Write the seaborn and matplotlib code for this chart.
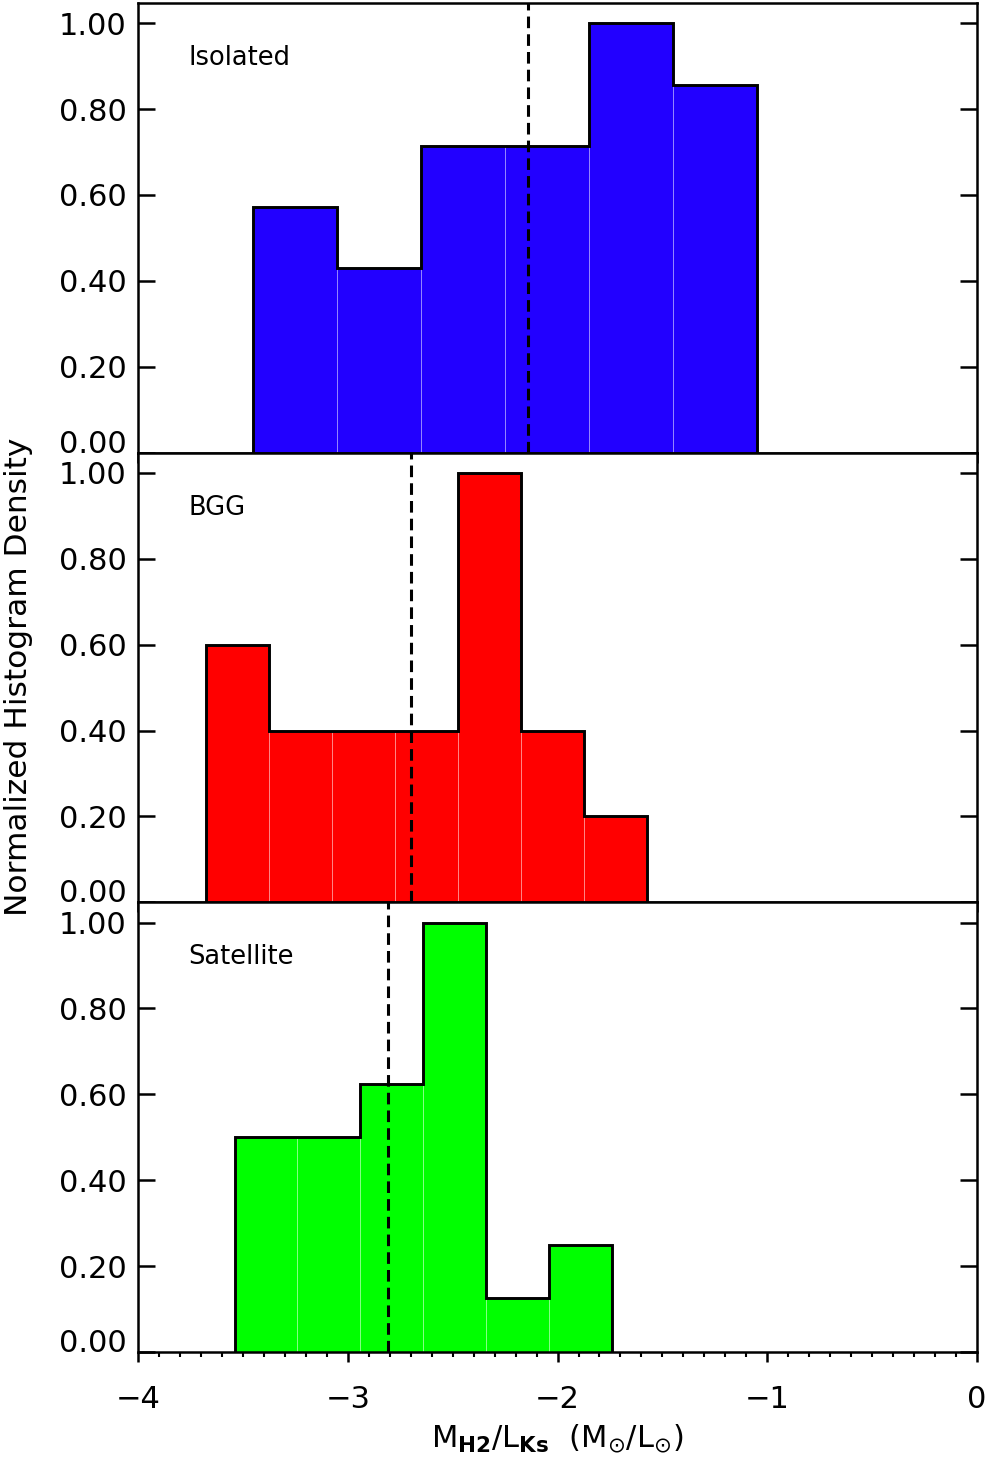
import numpy as np
import pandas as pd
import matplotlib
matplotlib.use('Agg')
import matplotlib.pyplot as plt
import seaborn as sns
from matplotlib.ticker import MultipleLocator, FormatStrFormatter

sns.set_style('ticks')
plt.rcParams['font.family'] = ['DejaVu Sans']
plt.rcParams['mathtext.fontset'] = 'dejavusans'
plt.rcParams['axes.linewidth'] = 1.8
for k in ['text.color', 'axes.labelcolor', 'xtick.color', 'ytick.color', 'axes.edgecolor']:
    plt.rcParams[k] = 'black'

# histogram bins and normalized heights, one set per panel
iso_edges = [-3.45, -3.05, -2.65, -2.25, -1.85, -1.45, -1.05]
iso_heights = [0.571, 0.429, 0.714, 0.714, 1.0, 0.857]
iso_median = -2.14

bgg_edges = [-3.675, -3.375, -3.075, -2.775, -2.475, -2.175, -1.875, -1.575]
bgg_heights = [0.6, 0.4, 0.4, 0.4, 1.0, 0.4, 0.2]
bgg_median = -2.70

sat_edges = [-3.54, -3.24, -2.94, -2.64, -2.34, -2.04, -1.74]
sat_heights = [0.5, 0.5, 0.625, 1.0, 0.125, 0.25]
sat_median = -2.81

panel_names = ['Isolated', 'BGG', 'Satellite']
panel_colors = ['#2200ff', '#ff0000', '#00ff00']
y_ticks = [0.0, 0.2, 0.4, 0.6, 0.8, 1.0]
x_ticks = [-4, -3, -2, -1, 0]

panels = [(iso_edges, iso_heights, iso_median),
          (bgg_edges, bgg_heights, bgg_median),
          (sat_edges, sat_heights, sat_median)]

fig, axes = plt.subplots(3, 1, figsize=(9.88, 14.61), dpi=100, sharex=True)
plt.subplots_adjust(left=0.1397, right=0.9889, bottom=0.0746, top=0.998, hspace=0)

for i, (ax, (edges, heights, med)) in enumerate(zip(axes, panels)):
    e = np.array(edges)
    df = pd.DataFrame({'x': (e[:-1] + e[1:]) / 2, 'h': heights})
    sns.histplot(data=df, x='x', weights='h', bins=list(edges), stat='count',
                 element='bars', color=panel_colors[i], alpha=1,
                 edgecolor=(1, 1, 1, 0.35), linewidth=0.6, ax=ax)
    ax.stairs(heights, edges, baseline=0, fill=False, color='black',
              linewidth=2.1, zorder=3)
    ax.axvline(med, color='black', linewidth=2.2, dashes=(3.8, 2.0), zorder=4)

    ax.set_xlim(-4, 0)
    ax.set_ylim(0, 1.047)
    ax.set_ylabel('')
    ax.set_xlabel('')
    ax.set_yticks(y_ticks)
    ax.yaxis.set_major_formatter(FormatStrFormatter('%.2f'))
    ax.set_xticks(x_ticks)
    ax.xaxis.set_minor_locator(MultipleLocator(0.1))
    ax.tick_params(axis='y', which='major', direction='in', length=12,
                   width=1.8, left=True, right=True, labelsize=22, pad=8)
    ax.tick_params(axis='x', which='major', direction='out', length=7,
                   width=1.8, top=False, bottom=True, labelsize=22, pad=17)
    ax.tick_params(axis='x', which='minor', direction='out', length=3.5,
                   width=1.5, top=False, bottom=True)
    ax.yaxis.get_major_ticks()[0].label1.set_va('baseline')
    for sp in ax.spines.values():
        sp.set_visible(True)
        sp.set_linewidth(1.8)
        sp.set_color('black')
    ax.text(0.0596, 0.862, panel_names[i], transform=ax.transAxes,
            fontsize=18.5, va='baseline', ha='left')

axes[-1].set_xticklabels(['\u22124', '\u22123', '\u22122', '\u22121', '0'])
axes[-1].set_xlabel(r'$\mathregular{M_{\mathbf{H2}}/L_{\mathbf{Ks}}\ \ (M_{\odot}/L_{\odot})}$',
                    fontsize=22, labelpad=6)
fig.text(0.019, 0.5366, 'Normalized Histogram Density', rotation=90,
         ha='center', va='center', fontsize=22.5)

plt.savefig('out.png', dpi=100)
